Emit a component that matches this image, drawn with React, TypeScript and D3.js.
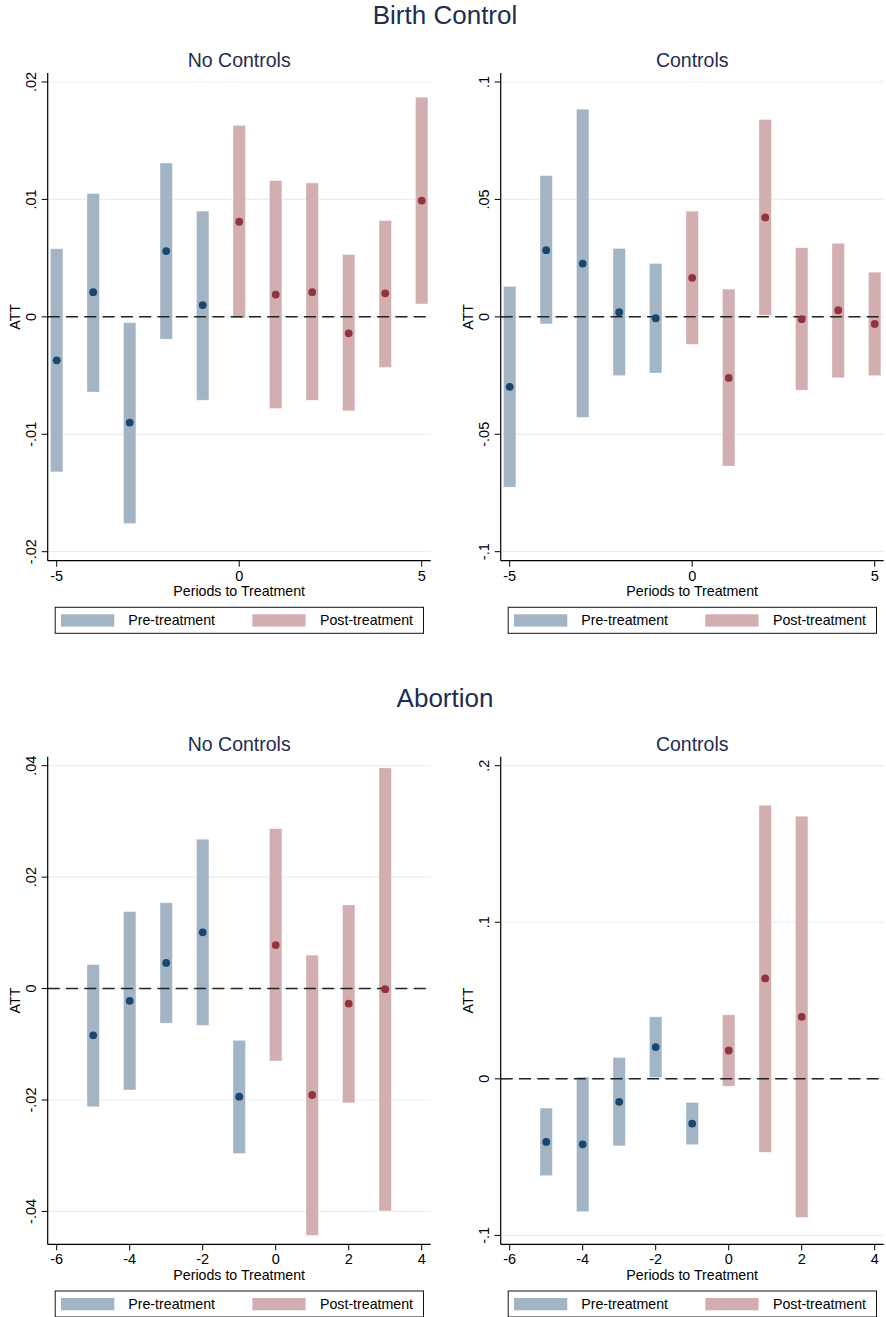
import React from "react";
import * as d3 from "d3";

// ---------- data ----------
const bcPeriods = [-5, -4, -3, -2, -1, 0, 1, 2, 3, 4, 5];
const bcNoEst = [-0.0037, 0.0021, -0.0090, 0.0056, 0.0010, 0.0081, 0.0019, 0.0021, -0.0014, 0.0020, 0.0099];
const bcNoLo = [-0.0132, -0.0064, -0.0176, -0.0019, -0.0071, -0.0001, -0.0078, -0.0071, -0.0080, -0.0043, 0.0011];
const bcNoHi = [0.0058, 0.0105, -0.0005, 0.0131, 0.0090, 0.0163, 0.0116, 0.0114, 0.0053, 0.0082, 0.0187];

const bcCtrlEst = [-0.0298, 0.0284, 0.0227, 0.0020, -0.0006, 0.0166, -0.0260, 0.0423, -0.0010, 0.0028, -0.0030];
const bcCtrlLo = [-0.0725, -0.0030, -0.0428, -0.0250, -0.0239, -0.0117, -0.0635, 0.0007, -0.0312, -0.0259, -0.0250];
const bcCtrlHi = [0.0129, 0.0601, 0.0884, 0.0291, 0.0227, 0.0450, 0.0118, 0.0840, 0.0294, 0.0313, 0.0190];

const abNoPeriods = [-5, -4, -3, -2, -1, 0, 1, 2, 3];
const abNoEst = [-0.0084, -0.0022, 0.0046, 0.0101, -0.0194, 0.0078, -0.0191, -0.0027, -0.0001];
const abNoLo = [-0.0212, -0.0182, -0.0062, -0.0066, -0.0296, -0.0130, -0.0443, -0.0205, -0.0399];
const abNoHi = [0.0043, 0.0138, 0.0154, 0.0268, -0.0093, 0.0287, 0.0060, 0.0150, 0.0396];

const abCtrlPeriods = [-5, -4, -3, -2, -1, 0, 1, 2];
const abCtrlEst = [-0.0403, -0.0418, -0.0147, 0.0203, -0.0286, 0.0181, 0.0641, 0.0396];
const abCtrlLo = [-0.0618, -0.0848, -0.0428, 0.0009, -0.0420, -0.0047, -0.0469, -0.0885];
const abCtrlHi = [-0.0187, 0.0011, 0.0136, 0.0396, -0.0151, 0.0409, 0.1747, 0.1677];

const bcXTicks = [-5, 0, 5];
const abXTicks = [-6, -4, -2, 0, 2, 4];

const bcNoYTicks = [-0.02, -0.01, 0, 0.01, 0.02];
const bcNoYLabels = ["-.02", "-.01", "0", ".01", ".02"];
const bcCtrlYTicks = [-0.1, -0.05, 0, 0.05, 0.1];
const bcCtrlYLabels = ["-.1", "-.05", "0", ".05", ".1"];
const abNoYTicks = [-0.04, -0.02, 0, 0.02, 0.04];
const abNoYLabels = ["-.04", "-.02", "0", ".02", ".04"];
const abCtrlYTicks = [-0.1, 0, 0.1, 0.2];
const abCtrlYLabels = ["-.1", "0", ".1", ".2"];

const sectionTitles = ["Birth Control", "Abortion"];
const panelTitles = ["No Controls", "Controls"];
const legendLabels = ["Pre-treatment", "Post-treatment"];
const xTitle = "Periods to Treatment";
const yTitle = "ATT";

// ---------- style ----------
const W = 886;
const H = 1317;
const FONT = "'Liberation Sans', Arial, Helvetica, sans-serif";
const NAVY = "#1a476f";
const MAROON = "#90353b";
const NAVY_BAR = "#a3b5c5";
const MAROON_BAR = "#d3aeb1";
const TITLE_COLOR = "#1e2d50";
const GRID = "#e6eff1";
const PAD = 9;
const PLOT_W = 383;
const PLOT_H = 487.7;
const LEFTS = [47.7, 500.7];
const TOPS = [73, 756.7];

type PanelProps = {
  left: number;
  top: number;
  title: string;
  periods: number[];
  est: number[];
  lo: number[];
  hi: number[];
  xTicks: number[];
  yTicks: number[];
  yLabels: string[];
};

function Panel(p: PanelProps) {
  const { left, top } = p;
  const right = left + PLOT_W;
  const bottom = top + PLOT_H;
  const x = d3
    .scaleLinear()
    .domain([d3.min(p.xTicks) as number, d3.max(p.xTicks) as number])
    .range([left + PAD, right - PAD]);
  const yMin = Math.min(d3.min(p.yTicks) as number, d3.min(p.lo) as number);
  const yMax = Math.max(d3.max(p.yTicks) as number, d3.max(p.hi) as number);
  const y = d3.scaleLinear().domain([yMin, yMax]).range([bottom - PAD, top + PAD]);
  const halfW = 0.169;
  const cx = (left + right) / 2;
  const cy = (top + bottom) / 2;
  const legY = bottom + 46.6;

  return (
    <g fontFamily={FONT}>
      <text x={cx} y={top - 6} textAnchor="middle" fontSize={19.5} fill={TITLE_COLOR}>
        {p.title}
      </text>
      {p.yTicks.map((t, i) => (
        <line key={"g" + i} x1={left} x2={right} y1={y(t)} y2={y(t)} stroke={GRID} strokeWidth={1.2} />
      ))}
      {p.periods.map((per, i) => {
        const pre = per < 0;
        const x0 = x(per - halfW);
        const x1 = x(per + halfW);
        return (
          <rect
            key={"b" + i}
            x={x0}
            y={y(p.hi[i])}
            width={x1 - x0}
            height={y(p.lo[i]) - y(p.hi[i])}
            fill={pre ? NAVY_BAR : MAROON_BAR}
            stroke="#ffffff"
            strokeOpacity={0.35}
            strokeWidth={0.8}
          />
        );
      })}
      <line
        x1={left}
        x2={right}
        y1={y(0)}
        y2={y(0)}
        stroke="#222"
        strokeWidth={1.5}
        strokeDasharray="12 6.3"
      />
      {p.periods.map((per, i) => (
        <circle key={"d" + i} cx={x(per)} cy={y(p.est[i])} r={3.9} fill={per < 0 ? NAVY : MAROON} />
      ))}
      {/* axes */}
      <line x1={left} x2={left} y1={top} y2={bottom} stroke="#000" strokeWidth={1.2} />
      <line x1={left} x2={right} y1={bottom} y2={bottom} stroke="#000" strokeWidth={1.2} />
      {p.yTicks.map((t, i) => (
        <g key={"yt" + i}>
          <line x1={left - 6} x2={left} y1={y(t)} y2={y(t)} stroke="#000" strokeWidth={1} />
          <text
            transform={`translate(${left - 12},${y(t)}) rotate(-90)`}
            textAnchor="middle"
            fontSize={14.5}
            fill="#000"
          >
            {p.yLabels[i]}
          </text>
        </g>
      ))}
      {p.xTicks.map((t, i) => (
        <g key={"xt" + i}>
          <line x1={x(t)} x2={x(t)} y1={bottom} y2={bottom + 6} stroke="#000" strokeWidth={1} />
          <text x={x(t)} y={bottom + 20} textAnchor="middle" fontSize={14.5} fill="#000">
            {t}
          </text>
        </g>
      ))}
      <text x={cx} y={bottom + 35.5} textAnchor="middle" fontSize={14.2} fill="#000">
        {xTitle}
      </text>
      <text
        transform={`translate(${left - 27.7},${cy}) rotate(-90)`}
        textAnchor="middle"
        fontSize={14.2}
        fill="#000"
      >
        {yTitle}
      </text>
      {/* legend */}
      <rect x={left + 7.5} y={legY} width={368.3} height={26} fill="#fff" stroke="#111" strokeWidth={1} />
      <rect x={left + 13.3} y={legY + 7} width={53.3} height={12.3} fill={NAVY_BAR} />
      <text x={left + 80.6} y={legY + 17.8} fontSize={14.2} fill="#000">
        {legendLabels[0]}
      </text>
      <rect x={left + 204.6} y={legY + 7} width={53.3} height={12.3} fill={MAROON_BAR} />
      <text x={left + 272.3} y={legY + 17.8} fontSize={14.2} fill="#000">
        {legendLabels[1]}
      </text>
    </g>
  );
}

export default function App() {
  return (
    <svg
      width={W}
      height={H}
      viewBox={`0 0 ${W} ${H}`}
      style={{ position: "absolute", left: 0, top: 0, display: "block", background: "#fff" }}
    >
      <rect x={0} y={0} width={W} height={H} fill="#fff" />
      {sectionTitles.map((t, i) => (
        <text
          key={t}
          x={445}
          y={TOPS[i] - 49.5}
          textAnchor="middle"
          fontSize={26}
          fontFamily={FONT}
          fill={TITLE_COLOR}
        >
          {t}
        </text>
      ))}
      <Panel
        left={LEFTS[0]}
        top={TOPS[0]}
        title={panelTitles[0]}
        periods={bcPeriods}
        est={bcNoEst}
        lo={bcNoLo}
        hi={bcNoHi}
        xTicks={bcXTicks}
        yTicks={bcNoYTicks}
        yLabels={bcNoYLabels}
      />
      <Panel
        left={LEFTS[1]}
        top={TOPS[0]}
        title={panelTitles[1]}
        periods={bcPeriods}
        est={bcCtrlEst}
        lo={bcCtrlLo}
        hi={bcCtrlHi}
        xTicks={bcXTicks}
        yTicks={bcCtrlYTicks}
        yLabels={bcCtrlYLabels}
      />
      <Panel
        left={LEFTS[0]}
        top={TOPS[1]}
        title={panelTitles[0]}
        periods={abNoPeriods}
        est={abNoEst}
        lo={abNoLo}
        hi={abNoHi}
        xTicks={abXTicks}
        yTicks={abNoYTicks}
        yLabels={abNoYLabels}
      />
      <Panel
        left={LEFTS[1]}
        top={TOPS[1]}
        title={panelTitles[1]}
        periods={abCtrlPeriods}
        est={abCtrlEst}
        lo={abCtrlLo}
        hi={abCtrlHi}
        xTicks={abXTicks}
        yTicks={abCtrlYTicks}
        yLabels={abCtrlYLabels}
      />
    </svg>
  );
}
